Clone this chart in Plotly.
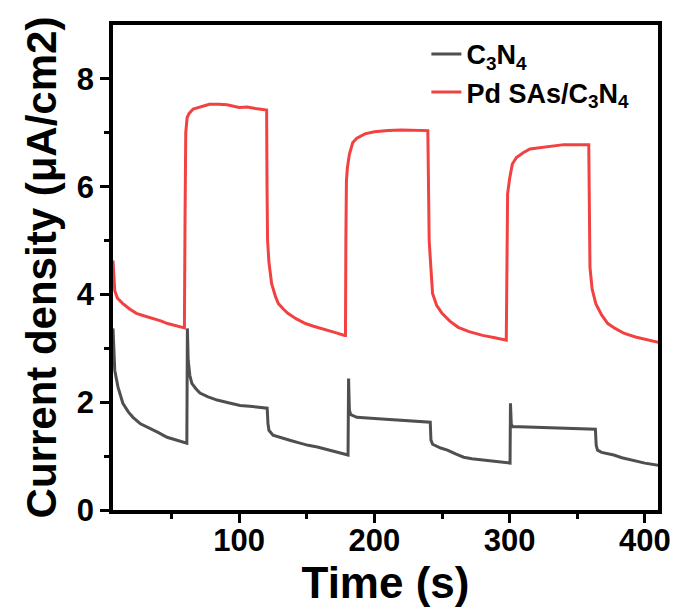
import plotly.graph_objects as go

# Pd SAs/C3N4 photocurrent (time s, current density uA/cm2)
pd_t = [6.7, 7.2, 8, 10, 14, 19, 24, 30, 36, 42, 47, 52, 58, 59.5,
        60, 60.5, 61.5, 63, 66, 71, 78, 85, 91, 100, 106, 112, 118, 120.3,
        120.6, 121, 122, 124, 127, 129, 133, 136, 142, 149, 155, 161, 170, 178, 178.6,
        178.9, 179.3, 180, 181.5, 184, 187, 193, 200, 210, 220, 239.5,
        240, 240.5, 241.5, 243, 246, 250, 256, 262, 270, 280, 290, 297.5,
        298, 298.5, 300, 302, 305, 310, 315, 330, 340, 358.5,
        358.9, 359.4, 361, 363.7, 368, 372.6, 378, 384.4, 393, 402, 410]
pd_j = [4.63, 4.35, 4.07, 3.93, 3.83, 3.73, 3.65, 3.60, 3.56, 3.51, 3.46, 3.43, 3.39, 3.38,
        5.5, 7.0, 7.28, 7.36, 7.44, 7.48, 7.53, 7.53, 7.52, 7.47, 7.48, 7.45, 7.43, 7.42,
        6.0, 5.0, 4.6, 4.2, 3.95, 3.83, 3.72, 3.65, 3.55, 3.46, 3.41, 3.37, 3.30, 3.24, 3.24,
        5.0, 6.1, 6.35, 6.6, 6.82, 6.9, 6.98, 7.02, 7.04, 7.05, 7.04,
        6.0, 5.0, 4.6, 4.02, 3.8, 3.65, 3.5, 3.39, 3.31, 3.24, 3.19, 3.15,
        4.5, 5.87, 6.15, 6.42, 6.54, 6.63, 6.7, 6.75, 6.78, 6.78,
        5.5, 4.5, 4.1, 3.83, 3.62, 3.46, 3.37, 3.28, 3.21, 3.15, 3.11]

# C3N4 photocurrent
cn_t = [6.7, 7.2, 8, 10.4, 14, 18, 21.5, 27, 34, 40, 46.7, 54, 61.3,
        61.7, 62.3, 63.5, 65, 68, 71, 77, 83.7, 92, 100.7, 110, 120.7,
        121.3, 122, 125, 128, 132.6, 138, 145, 151, 157.8, 165, 172, 180.5,
        180.9, 181.5, 182.5, 187, 200, 217, 230, 241.3,
        241.8, 243, 249, 254, 260, 266, 272, 278.5, 290, 300.3,
        300.6, 301.2, 302, 315.5, 340, 363.4,
        364, 365, 368, 372.6, 377, 383, 389.6, 400, 410]
cn_j = [3.37, 2.95, 2.59, 2.28, 1.98, 1.82, 1.72, 1.60, 1.52, 1.44, 1.35, 1.29, 1.24,
        3.37, 2.78, 2.5, 2.35, 2.25, 2.17, 2.10, 2.04, 1.99, 1.94, 1.92, 1.89,
        1.6, 1.48, 1.39, 1.37, 1.33, 1.29, 1.24, 1.2, 1.17, 1.12, 1.07, 1.02,
        2.44, 1.85, 1.77, 1.72, 1.70, 1.67, 1.65, 1.63,
        1.3, 1.22, 1.15, 1.11, 1.04, 0.98, 0.95, 0.93, 0.89, 0.87,
        1.98, 1.6, 1.55, 1.54, 1.52, 1.50,
        1.2, 1.11, 1.07, 1.05, 1.02, 0.97, 0.93, 0.87, 0.83]

x_ticks = [100, 200, 300, 400]
x_minor = [50, 150, 250, 350]
y_ticks = [0, 2, 4, 6, 8]
y_minor = [1, 3, 5, 7]

FONT = "Liberation Sans, Arial, sans-serif"

fig = go.Figure()
fig.add_trace(go.Scatter(x=cn_t, y=cn_j, mode="lines", name="C<sub>3</sub>N<sub>4</sub>",
                         line=dict(color="#4f4f4f", width=3)))
fig.add_trace(go.Scatter(x=pd_t, y=pd_j, mode="lines", name="Pd SAs/C<sub>3</sub>N<sub>4</sub>",
                         line=dict(color="#f24141", width=3)))

axis_common = dict(
    showline=True, linecolor="black", linewidth=3.5, mirror=True,
    ticks="outside", ticklen=9, tickwidth=3, tickcolor="black",
    showgrid=False, zeroline=False,
    tickfont=dict(family=FONT, size=31, color="black", weight="bold"),
)

fig.update_xaxes(range=[6.7, 409.7], tickvals=x_ticks, ticklabelstandoff=-9,
                 minor=dict(tickvals=x_minor, ticklen=5, tickwidth=3, tickcolor="black", ticks="outside"),
                 title=dict(text="Time (s)", font=dict(family=FONT, size=44, color="black", weight="bold"), standoff=0),
                 **axis_common)
fig.update_yaxes(range=[0, 9], tickvals=y_ticks,
                 minor=dict(tickvals=y_minor, ticklen=5, tickwidth=3, tickcolor="black", ticks="outside"),
                 title=dict(text="Current density (μA/cm2)", font=dict(family=FONT, size=42, color="black", weight="bold"), standoff=8),
                 **axis_common)

fig.update_layout(
    width=678, height=614,
    margin=dict(l=113, r=20, t=25, b=104, autoexpand=False),
    plot_bgcolor="white", paper_bgcolor="white",
    legend=dict(x=0.575, y=0.99, xanchor="left", yanchor="top",
                font=dict(family=FONT, size=27, color="black", weight="bold"),
                bgcolor="rgba(0,0,0,0)", borderwidth=0, tracegroupgap=0),
)

fig.write_html("out.html", config={"displayModeBar": False},
               post_script="document.body.style.margin='0';")
